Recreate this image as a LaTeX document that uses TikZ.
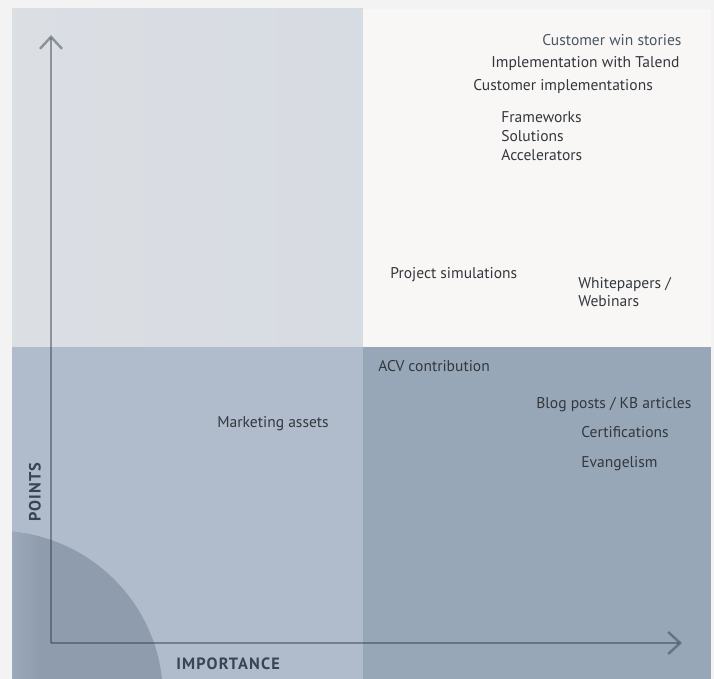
\documentclass[tikz,border=0pt]{standalone}
\usepackage{fontspec}
\setmainfont{PT Sans}
\usepackage{tikz}
\usetikzlibrary{arrows.meta,backgrounds}
\definecolor{pagebg}{HTML}{F3F3F3}
\definecolor{quadtl}{HTML}{DBDFE4}
\definecolor{quadtlr}{HTML}{D7DBE2}
\definecolor{quadtr}{HTML}{F8F7F5}
\definecolor{quadbl}{HTML}{B0BCCB}
\definecolor{quadbr}{HTML}{97A7B8}
\definecolor{corner}{HTML}{8F9CAD}
\definecolor{cornerl}{HTML}{9AA9BB}
\definecolor{axiscol}{HTML}{2A3646}
\definecolor{itemtext}{HTML}{33373D}
\definecolor{wintext}{HTML}{4A5563}
\definecolor{labeltext}{HTML}{3A4352}
\tikzstyle{item} = [anchor=base west, inner sep=0pt, text=itemtext,
                    font=\fontsize{8.85}{10.4}\selectfont]
\tikzstyle{axislabel} = [inner sep=0pt, text=labeltext,
                    font=\fontsize{9.3}{10.4}\selectfont\bfseries\addfontfeature{LetterSpace=7}]
\tikzstyle{axis} = [draw=axiscol, draw opacity=0.45, line width=1.4pt,
                    -{Straight Barb[length=0.24cm, width=0.44cm]}]

\begin{document}
\begin{tikzpicture}
\useasboundingbox (0,0) rectangle (14.28,13.58);
\fill[pagebg] (0,0) rectangle (14.28,13.58);

%Quadrants
\shade[left color=quadtl, right color=quadtlr] (0.24,6.64) rectangle (7.26,13.40);
\fill[quadtr] (7.26,6.64) rectangle (14.22,13.40);
\fill[quadbl] (0.24,0) rectangle (7.26,6.64);
\fill[quadbr] (7.26,0) rectangle (14.22,6.64);

%Corner
\begin{scope}
\clip (0.24,0) rectangle (7.26,6.64);
\fill[corner] (-0.06,-0.36) circle (3.32);
\clip (-0.06,-0.36) circle (3.32);
\shade[left color=cornerl, right color=corner] (0.24,0) rectangle (0.80,3.2);
\end{scope}

%Axes
\coordinate (origin) at (1.02,0.72);
\coordinate (ytip) at (1.02,12.88);
\coordinate (xtip) at (13.64,0.72);
\draw[axis] (origin) -- (ytip);
\draw[axis] (origin) -- (xtip);
\node[axislabel, rotate=90] (points) at (0.70,3.74) {POINTS};
\node[axislabel, anchor=base west] (importance) at (3.52,0.18) {IMPORTANCE};

%Top right
\node[item, text=wintext] (win) at (10.84,12.66) {Customer win stories};
\node[item] (talend) at (9.82,12.22) {Implementation with Talend};
\node[item] (custimpl) at (9.46,11.76) {Customer implementations};
\node[item] (frameworks) at (10.02,11.12) {Frameworks};
\node[item] (solutions) at (10.02,10.74) {Solutions};
\node[item] (accel) at (10.02,10.36) {Accelerators};
\node[item] (projsim) at (7.80,8.00) {Project simulations};
\node[item, align=left] (white) at (11.56,7.44) {Whitepapers /\\Webinars};

%Bottom
\node[item] (acv) at (7.56,6.14) {ACV contribution};
\node[item] (blog) at (10.72,5.40) {Blog posts / KB articles};
\node[item] (cert) at (11.62,4.82) {Certifications};
\node[item] (evang) at (11.62,4.23) {Evangelism};
\node[item] (market) at (4.34,5.02) {Marketing assets};

\end{tikzpicture}
\end{document}
